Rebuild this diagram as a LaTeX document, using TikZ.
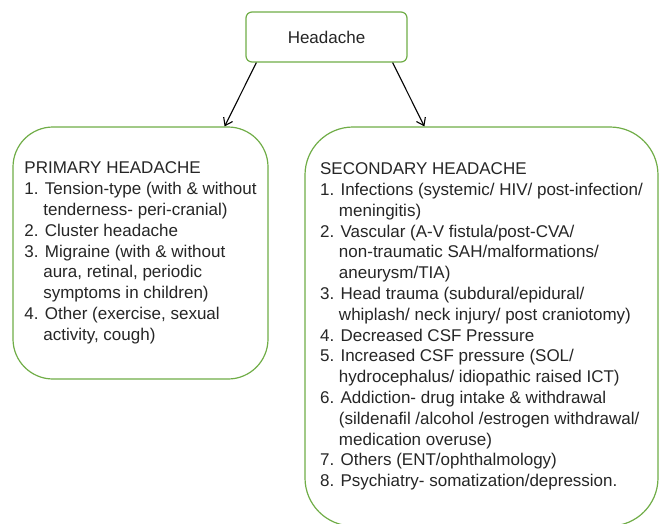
\documentclass[tikz,border=0pt]{standalone}
\usepackage{fontspec}
\setmainfont{Liberation Sans}
\usepackage{tikz}
\usetikzlibrary{arrows.meta}
\definecolor{boxgreen}{RGB}{112,173,71}
\definecolor{txtgrey}{RGB}{38,38,38}
\newcommand{\contd}{\hspace*{18.9pt}}
\tikzset{
    x=1pt, y=-1pt,
    greenbox/.style={draw=boxgreen, line width=1.2pt, fill=white, text=txtgrey,
        align=left, inner sep=0pt, font=\fontsize{17}{20.8}\selectfont},
    link/.style={draw=black, line width=1.1pt, -{Straight Barb[length=7pt,width=10pt]}}}

\begin{document}
\begin{tikzpicture}
                \useasboundingbox (0,0) rectangle (659,523);

                    \node[greenbox, rounded corners=6pt, minimum width=161pt, minimum height=50pt] (head) at (326.5,37) {Headache};
                    \node[greenbox, rounded corners=40pt, minimum width=255pt, minimum height=252pt] (prim) at (140.5,253) {PRIMARY HEADACHE\\
1. Tension-type (with \& without\\
\contd tenderness- peri-cranial)\\
2. Cluster headache\\
3. Migraine (with \& without\\
\contd aura, retinal, periodic\\
\contd symptoms in children)\\
4. Other (exercise, sexual\\
\contd activity, cough)};
                    \node[greenbox, rounded corners=48pt, minimum width=353pt, minimum height=399pt] (sec) at (481.5,326.5) {SECONDARY HEADACHE\\
1. Infections (systemic/ HIV/ post-infection/\\
\contd meningitis)\\
2. Vascular (A-V fistula/post-CVA/\\
\contd non-traumatic SAH/malformations/\\
\contd aneurysm/TIA)\\
3. Head trauma (subdural/epidural/\\
\contd whiplash/ neck injury/ post craniotomy)\\
4. Decreased CSF Pressure\\
5. Increased CSF pressure (SOL/\\
\contd hydrocephalus/ idiopathic raised ICT)\\
6. Addiction- drug intake \& withdrawal\\
\contd (sildenafil /alcohol /estrogen withdrawal/\\
\contd medication overuse)\\
7. Others (ENT/ophthalmology)\\
8. Psychiatry- somatization/depression.};

                    \draw[link] ([xshift=11pt]head.south west) -- ([xshift=-44pt]prim.north east);
                    \draw[link] ([xshift=-15pt]head.south east) -- ([xshift=120pt]sec.north west);

                \end{tikzpicture}
\end{document}
